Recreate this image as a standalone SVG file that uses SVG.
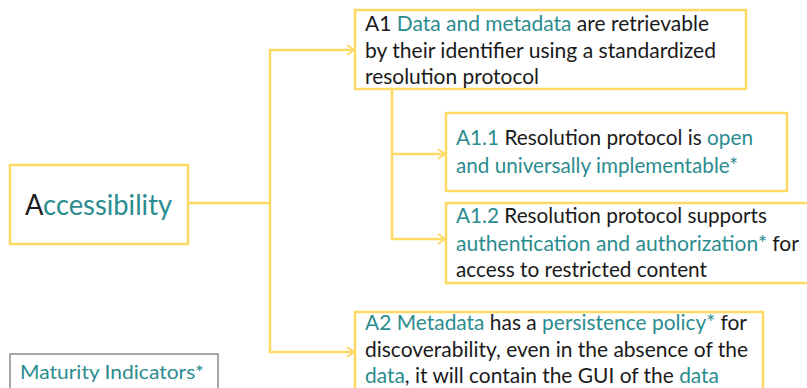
<svg xmlns="http://www.w3.org/2000/svg" width="807" height="388" viewBox="0 0 807 388">
  <style>
    .box { fill: #ffffff; stroke: #ffd966; stroke-width: 2.5; }
    .mi { fill: #ffffff; stroke: #8c8c8c; stroke-width: 1.5; }
    .wire { fill: none; stroke: #ffd966; stroke-width: 2.5; }
    text { font-family: Lato, "Open Sans", "Liberation Sans", sans-serif; font-size: 21px; fill: #1a1a1a; }
    .t { fill: #2b8c8f; }
    .big { font-size: 28px; }
    .mid { font-size: 20px; }
  </style>
  <defs>
    <marker id="chev" viewBox="0 0 10 12" refX="9" refY="6" markerWidth="10" markerHeight="12" markerUnits="userSpaceOnUse" orient="auto">
      <path d="M2,1 L9,6 L2,11" fill="none" stroke="#ffd966" stroke-width="2"/>
    </marker>
  </defs>
  <rect width="807" height="388" fill="#ffffff"/>

  <g id="connectors">
    <path class="wire" d="M188,203 H270"/>
    <path class="wire" d="M270,203 V50 H354" marker-end="url(#chev)"/>
    <path class="wire" d="M270,203 V352 H354" marker-end="url(#chev)"/>
    <path class="wire" d="M392,89 V154 H445" marker-end="url(#chev)"/>
    <path class="wire" d="M392,154 V239 H445" marker-end="url(#chev)"/>
  </g>

  <g id="accessibility">
    <rect class="box" x="10" y="165" width="178" height="79"/>
    <text class="big" x="25" y="215" textLength="147" lengthAdjust="spacingAndGlyphs">A<tspan class="t">ccessibility</tspan></text>
  </g>

  <g id="a1">
    <rect class="box" x="355" y="10" width="391" height="79"/>
    <text x="365" y="31" textLength="344" lengthAdjust="spacingAndGlyphs">A1 <tspan class="t">Data and metadata</tspan> are retrievable</text>
    <text x="365" y="58" textLength="351" lengthAdjust="spacingAndGlyphs">by their identifier using a standardized</text>
    <text x="365" y="84" textLength="174" lengthAdjust="spacingAndGlyphs">resolution protocol</text>
  </g>

  <g id="a1-1">
    <rect class="box" x="446" y="113" width="341" height="78"/>
    <text x="456" y="145" textLength="297" lengthAdjust="spacingAndGlyphs"><tspan class="t">A1.1</tspan> Resolution protocol is <tspan class="t">open</tspan></text>
    <text class="t" x="456" y="173" textLength="282" lengthAdjust="spacingAndGlyphs">and universally implementable*</text>
  </g>

  <g id="a1-2">
    <rect class="box" x="446" y="203" width="380" height="80"/>
    <text x="456" y="223" textLength="311" lengthAdjust="spacingAndGlyphs"><tspan class="t">A1.2</tspan> Resolution protocol supports</text>
    <text x="456" y="251" textLength="343" lengthAdjust="spacingAndGlyphs"><tspan class="t">authentication and authorization*</tspan> for</text>
    <text x="456" y="277" textLength="251" lengthAdjust="spacingAndGlyphs">access to restricted content</text>
  </g>

  <g id="a2">
    <rect class="box" x="355" y="312" width="408" height="100"/>
    <text x="365" y="330" textLength="382" lengthAdjust="spacingAndGlyphs"><tspan class="t">A2 Metadata</tspan> has a <tspan class="t">persistence policy*</tspan> for</text>
    <text x="365" y="357" textLength="383" lengthAdjust="spacingAndGlyphs">discoverability, even in the absence of the</text>
    <text x="365" y="383" textLength="354" lengthAdjust="spacingAndGlyphs"><tspan class="t">data</tspan>, it will contain the GUI of the <tspan class="t">data</tspan></text>
  </g>

  <g id="maturity-indicators">
    <rect class="mi" x="10" y="354" width="208" height="50"/>
    <text class="t mid" x="20" y="379" textLength="184" lengthAdjust="spacingAndGlyphs">Maturity Indicators*</text>
  </g>
</svg>
